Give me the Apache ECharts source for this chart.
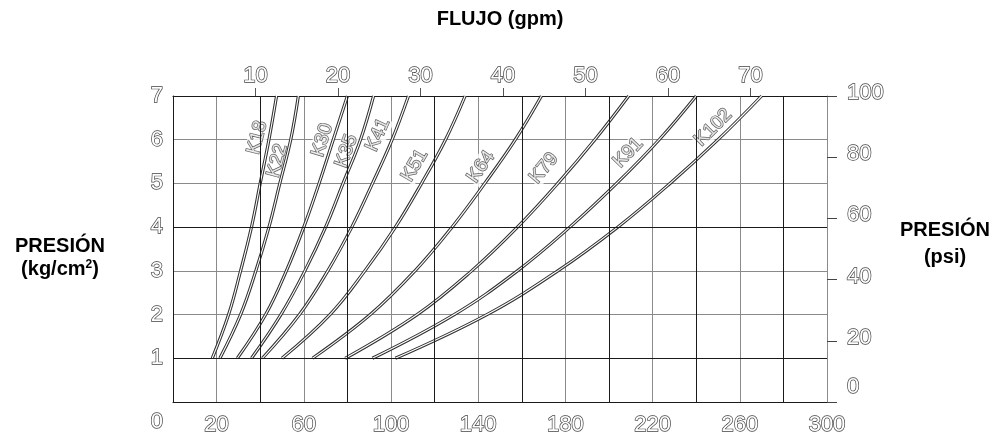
<!DOCTYPE html>
<html>
<head>
<meta charset="utf-8">
<script src="https://cdn.jsdelivr.net/npm/echarts@6/dist/echarts.min.js"></script>
<style>html,body{margin:0;padding:0;background:#fff}#c{width:996px;height:441px}</style>
</head>
<body>
<div id="c"></div>
<script>
// ---- data ----
var pressures = [1, 2, 3, 4, 5, 6, 7]; // kg/cm2
var curveNames = ['K18','K22','K30','K35','K41','K51','K64','K79','K91','K102'];
var K18  = [18, 25.5, 31, 36, 40, 44, 47.5];
var K22  = [21.5, 31, 38, 44, 49, 54, 57.5];
var K30  = [29.5, 42.5, 52, 60, 67, 73.5, 80];
var K35  = [36, 49.5, 60.5, 70, 78, 86, 92];
var K41  = [41, 58, 71, 82, 91.5, 100.5, 108];
var K51  = [50, 72, 88, 102, 114, 125, 134];
var K64  = [64, 90.5, 111, 128, 143, 157, 169];
var K79  = [79, 112, 137, 158, 176.5, 193.5, 209];
var K91  = [91.5, 129, 158, 182, 203.5, 223, 240];
var K102 = [102, 144, 176.5, 204, 228, 250, 270];
var curves = [K18, K22, K30, K35, K41, K51, K64, K79, K91, K102];
// label anchor points in data units (L/min, kg/cm2)
var labelFlow  = [38.7, 47.8, 68.5, 79.6, 94.0, 110.9, 141.3, 170.2, 208.8, 247.8];
var labelPres  = [6.05, 5.52, 5.99, 5.74, 6.11, 5.41, 5.38, 5.35, 5.70, 6.28];
var labelAngle = [76, 75, 73, 70, 66, 60, 55, 50, 46, 45];
var bottomTicks = [20, 60, 100, 140, 180, 220, 260, 300]; // L/min labels
var topTicks = [10, 20, 30, 40, 50, 60, 70]; // gpm
var darkX = [40, 80, 120, 160, 200, 240, 280];
var darkY = [1, 4];
var LPM_PER_GPM = 3.785;

var FONT = 'Liberation Sans';
var TB = '#444';
var hollow = {color:'#fff', textBorderColor:TB, textBorderWidth:1.4, fontSize:22, fontFamily:FONT};

var series = [];
// grid overlay lines (dark ones)
series.push({
  type:'line', data:[], z:1, silent:true,
  markLine:{silent:true, symbol:'none', label:{show:false},
    lineStyle:{color:'#1a1a1a', width:1, type:'solid'},
    data: darkX.map(function(v){return {xAxis:v};}).concat(darkY.map(function(v){return {yAxis:v};}))
  }
});
// labels
series.push({
  type:'scatter', z:1, symbolSize:0, silent:true,
  data: curveNames.map(function(n,i){
    return {name:n, value:[labelFlow[i], labelPres[i]], label:{rotate:labelAngle[i]}};
  }),
  label:{show:true, position:'inside', formatter:'{b}', fontSize:19, fontFamily:FONT,
    color:'#fff', textBorderColor:'#333', textBorderWidth:1.4, backgroundColor:'#fff', padding:[0,1]}
});
curves.forEach(function(arr, i){
  var d = arr.map(function(q, j){ return [q, pressures[j]]; });
  series.push({type:'line', name:curveNames[i], data:d, smooth:0.4, symbol:'none', z:3, silent:true,
    lineStyle:{color:'#333', width:3.2}});
  series.push({type:'line', data:d, smooth:0.4, symbol:'none', z:4, silent:true,
    lineStyle:{color:'#fff', width:1.1}});
});

var chart = echarts.init(document.getElementById('c'), null, {renderer:'canvas'});
chart.setOption({
  animation:false,
  backgroundColor:'#fff',
  grid:{left:173, right:169, top:96, bottom:39, containLabel:false},
  xAxis:[{
    type:'value', position:'bottom', min:0, max:300, interval:20,
    axisLine:{show:true, onZero:false, lineStyle:{color:'#1a1a1a', width:1}},
    axisTick:{show:false},
    splitLine:{show:true, lineStyle:{color:'#8a8a8a', width:1}},
    axisLabel:Object.assign({margin:12, formatter:function(v){ return bottomTicks.indexOf(v) >= 0 ? String(v) : ''; }}, hollow)
  },{
    type:'value', position:'top', min:0, max:300/LPM_PER_GPM,
    axisLine:{show:true, onZero:false, lineStyle:{color:'#1a1a1a', width:1}},
    axisTick:{show:true, length:8, lineStyle:{color:'#555'}, customValues:topTicks},
    splitLine:{show:false},
    axisLabel:Object.assign({margin:9, customValues:topTicks}, hollow)
  }],
  yAxis:[{
    type:'value', position:'left', min:0, max:7, interval:1,
    axisLine:{show:true, onZero:false, lineStyle:{color:'#1a1a1a', width:1}},
    axisTick:{show:false},
    splitLine:{show:true, lineStyle:{color:'#8a8a8a', width:1}},
    axisLabel:Object.assign({margin:10, formatter:function(v){ return v === 0 ? '{z|0}' : String(v); },
      rich:{z:{color:'#fff', textBorderColor:TB, textBorderWidth:1.4, fontSize:22, fontFamily:FONT, padding:[40,0,0,0]}}}, hollow)
  },{
    type:'value', position:'right', min:0, max:100, interval:20,
    axisLine:{show:true, onZero:false, lineStyle:{color:'#8a8a8a', width:1}},
    axisTick:{show:true, length:10, lineStyle:{color:'#444'}},
    splitLine:{show:false},
    axisLabel:Object.assign({margin:20, formatter:function(v){ return v === 0 ? '{z|0}' : '{a|' + v + '}'; },
      rich:{
        a:{color:'#fff', textBorderColor:TB, textBorderWidth:1.4, fontSize:22, fontFamily:FONT, padding:[0,0,6,0]},
        z:{color:'#fff', textBorderColor:TB, textBorderWidth:1.4, fontSize:22, fontFamily:FONT, padding:[0,0,30,0]}
      }}, hollow)
  }],
  graphic:[
    {type:'text', x:500, y:19, style:{text:'FLUJO (gpm)', align:'center', verticalAlign:'middle', font:'bold 20px "Liberation Sans"', fill:'#000'}},
    {type:'text', x:60, y:258, style:{
      text:'{b|PRESIÓN}\n{b|(kg/cm}{s|2}{b|)}', align:'center', verticalAlign:'middle',
      rich:{b:{font:'bold 20px "Liberation Sans"', fill:'#000', lineHeight:23, align:'center'},
            s:{font:'bold 12px "Liberation Sans"', fill:'#000', lineHeight:23, padding:[0,0,9,0]}}}},
    {type:'text', x:945, y:244, style:{
      text:'PRESIÓN\n(psi)', align:'center', verticalAlign:'middle', lineHeight:27,
      font:'bold 20px "Liberation Sans"', fill:'#000'}}
  ],
  series:series
});
</script>
</body>
</html>
